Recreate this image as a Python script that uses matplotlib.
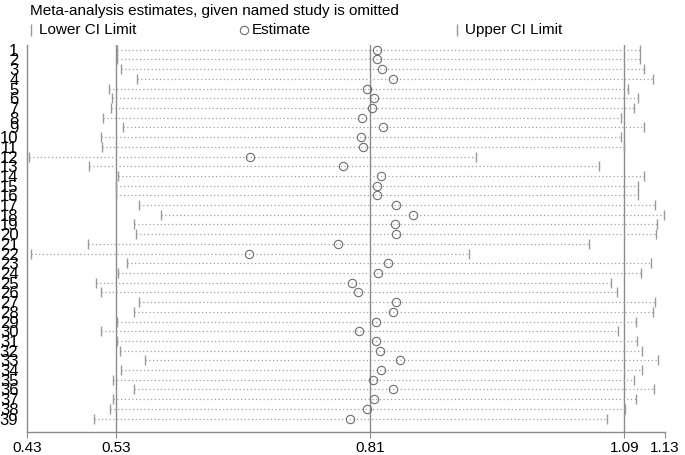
import matplotlib.pyplot as plt
import numpy as np

plt.rcParams['font.family'] = ['Liberation Sans', 'DejaVu Sans']

# omitted-study meta-analysis estimates
studies = [str(i) for i in range(1, 40)]
estimate = [0.818, 0.818, 0.823, 0.835, 0.807, 0.814, 0.812, 0.801, 0.824, 0.800,
            0.802, 0.678, 0.780, 0.822, 0.817, 0.818, 0.838, 0.857, 0.837, 0.838,
            0.774, 0.676, 0.830, 0.819, 0.790, 0.796, 0.838, 0.835, 0.816, 0.798,
            0.816, 0.821, 0.843, 0.822, 0.813, 0.835, 0.814, 0.806, 0.788]
lower = [0.531, 0.531, 0.536, 0.553, 0.522, 0.526, 0.525, 0.516, 0.538, 0.514,
         0.515, 0.434, 0.500, 0.532, 0.530, 0.530, 0.555, 0.580, 0.550, 0.552,
         0.499, 0.436, 0.542, 0.532, 0.508, 0.513, 0.555, 0.550, 0.531, 0.514,
         0.531, 0.534, 0.562, 0.535, 0.527, 0.550, 0.527, 0.523, 0.506]
upper = [1.107, 1.107, 1.112, 1.121, 1.094, 1.105, 1.101, 1.086, 1.112, 1.086,
         1.089, 0.927, 1.062, 1.112, 1.105, 1.105, 1.124, 1.134, 1.126, 1.125,
         1.051, 0.919, 1.119, 1.108, 1.075, 1.082, 1.124, 1.121, 1.103, 1.083,
         1.104, 1.109, 1.127, 1.109, 1.100, 1.122, 1.103, 1.091, 1.071]

# overall estimate and its CI, plus the axis range
overall = [0.53, 0.81, 1.09]
axis_min, axis_max = 0.4317, 1.1348
tick_vals = [axis_min, 0.53, 0.81, 1.09, axis_max]
tick_labels = ['0.43', '0.53', '0.81', '1.09', '1.13']

grey = '#8c8c8c'

fig = plt.figure(figsize=(6.85, 4.55), dpi=100)
ax = fig.add_axes([0.039, 0.0512, 0.932, 0.8497])

y = np.arange(1, len(studies) + 1)

for xv in overall:
    ax.axvline(xv, color=grey, lw=1.0, zorder=1)

ax.hlines(y, lower, upper, colors='#a0a0a0', linestyles=(0, (1, 2)), lw=0.9, zorder=2)
ax.plot(lower, y, ls='none', marker='|', ms=7.5, mew=1.0, color='#9a9a9a', zorder=3)
ax.plot(upper, y, ls='none', marker='|', ms=7.5, mew=1.0, color='#9a9a9a', zorder=3)
ax.plot(estimate, y, ls='none', marker='o', ms=6, mfc='none', mec='#6e6e6e',
        mew=0.8, zorder=4)

ax.set_xlim(axis_min, axis_max)
ax.set_ylim(40.35, 0.52)
ax.set_xticks(tick_vals)
ax.set_xticklabels(tick_labels, fontsize=11)
ax.set_yticks(y)
ax.set_yticklabels(studies, fontsize=12)
ax.tick_params(axis='x', length=4, color=grey, pad=2.5)
ax.tick_params(axis='y', length=0, pad=6)

for s in ['top', 'right']:
    ax.spines[s].set_visible(False)
for s in ['left', 'bottom']:
    ax.spines[s].set_color(grey)
    ax.spines[s].set_linewidth(1.0)

# title and legend row above the plot
fig.text(30 / 685, 1 - 11 / 455, 'Meta-analysis estimates, given named study is omitted',
         fontsize=11, va='center', ha='left')
leg_y = 1 - 30 / 455
fig.lines.append(plt.Line2D([31 / 685], [leg_y], ls='none', marker='|', ms=8,
                            color='#9a9a9a', transform=fig.transFigure))
fig.text(39 / 685, leg_y, 'Lower CI Limit', fontsize=11, va='center')
fig.lines.append(plt.Line2D([244 / 685], [leg_y], ls='none', marker='o', ms=6,
                            mfc='none', mec='#6e6e6e', mew=0.8, transform=fig.transFigure))
fig.text(252 / 685, leg_y, 'Estimate', fontsize=11, va='center')
fig.lines.append(plt.Line2D([457 / 685], [leg_y], ls='none', marker='|', ms=8,
                            color='#9a9a9a', transform=fig.transFigure))
fig.text(465 / 685, leg_y, 'Upper CI Limit', fontsize=11, va='center')

fig.savefig('out.png', dpi=100)
